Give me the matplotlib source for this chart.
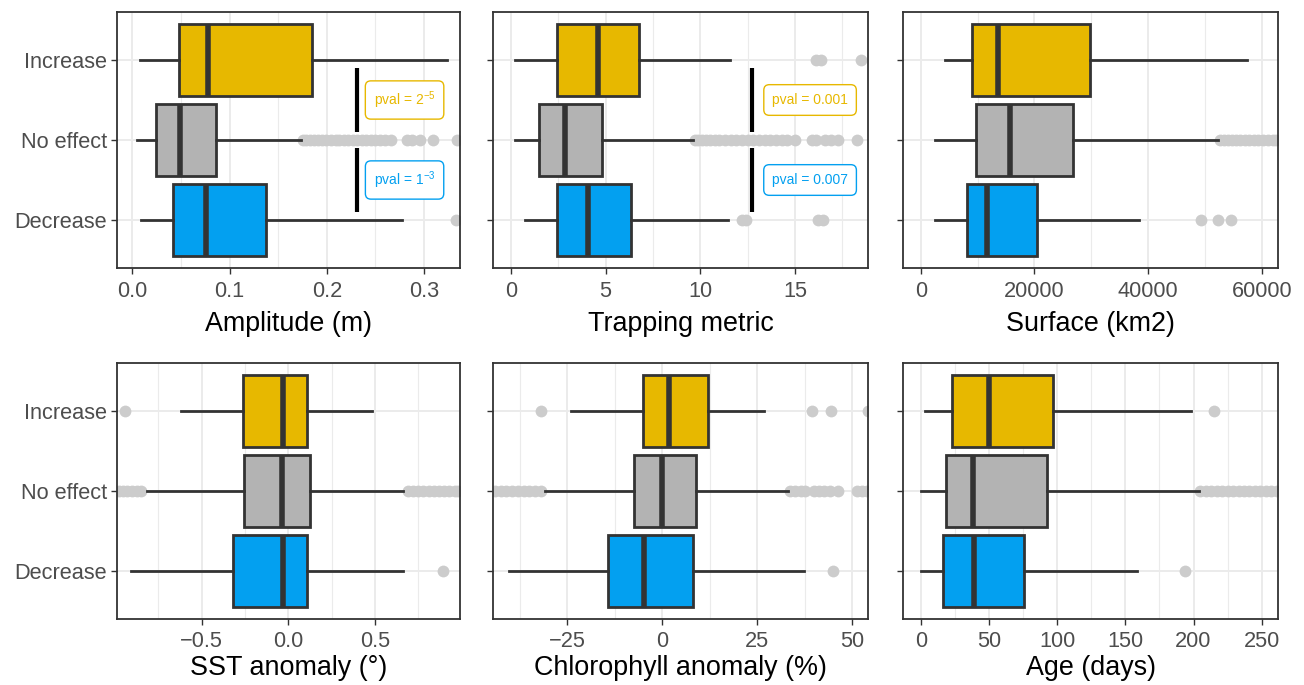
import matplotlib
matplotlib.use("Agg")
import matplotlib.pyplot as plt
import numpy as np

plt.rcParams['font.family'] = ['Liberation Sans', 'DejaVu Sans']
plt.rcParams['mathtext.fontset'] = 'custom'
plt.rcParams['mathtext.rm'] = 'Liberation Sans'
plt.rcParams['mathtext.it'] = 'Liberation Sans:italic'
plt.rcParams['mathtext.bf'] = 'Liberation Sans:bold'

categories = ["Increase", "No effect", "Decrease"]
colors = ["#E7B800", "#B3B3B3", "#03A0F0"]

# each stat: [whislo, q1, median, q3, whishi]
amp_stats = [[0.008, 0.048, 0.078, 0.185, 0.324],
             [0.0045, 0.0244, 0.049, 0.086, 0.174],
             [0.009, 0.0415, 0.0754, 0.138, 0.2775]]
amp_out = [[],
           [0.176, 0.179, 0.183, 0.187, 0.191, 0.195, 0.199, 0.204, 0.209, 0.213, 0.218,
            0.222, 0.227, 0.231, 0.236, 0.240, 0.245, 0.250, 0.255, 0.260, 0.266,
            0.282, 0.288, 0.296, 0.309, 0.334],
           [0.333]]

trap_stats = [[0.21, 2.41, 4.61, 6.78, 11.57],
              [0.21, 1.5, 2.85, 4.82, 9.63],
              [0.74, 2.41, 4.05, 6.34, 11.45]]
trap_out = [[16.1, 16.4, 18.5],
            [9.7, 9.9, 10.1, 10.3, 10.5, 10.8, 11.0, 11.3, 11.6, 11.9, 12.2, 12.5,
             12.8, 13.1, 13.4, 13.7, 14.0, 14.3, 14.6, 15.0, 15.9, 16.1, 16.6, 16.9,
             17.3, 18.3],
            [12.2, 12.4, 16.2, 16.5]]

surf_stats = [[4275, 9080, 13650, 29790, 57360],
              [2516, 9730, 15710, 26850, 52360],
              [2516, 8090, 11720, 20520, 38460]]
surf_out = [[],
            [52600, 53300, 54000, 54700, 55400, 56200, 57000, 57800, 58600, 59400,
             60300, 61100, 61900, 62600],
            [49320, 52360, 54600]]

sst_stats = [[-0.619, -0.263, -0.029, 0.106, 0.481],
             [-0.817, -0.254, -0.035, 0.125, 0.664],
             [-0.909, -0.321, -0.029, 0.106, 0.664]]
sst_out = [[-0.942],
           [-0.975, -0.955, -0.93, -0.90, -0.875, -0.85,
            0.69, 0.72, 0.75, 0.78, 0.81, 0.84, 0.87, 0.90, 0.93, 0.96, 0.98],
           [0.894]]

chl_stats = [[-24.1, -5.0, 1.76, 11.9, 26.8],
             [-30.9, -7.4, 0.0, 8.87, 33.2],
             [-40.4, -14.2, -4.74, 8.16, 37.4]]
chl_out = [[-32.0, 39.5, 44.3, 54.0],
           [-44.0, -42.5, -41.0, -39.5, -38.0, -36.5, -35.0, -33.5, -32.0,
            33.5, 35.0, 36.5, 37.6, 39.8, 41.2, 42.6, 44.0, 46.3, 51.3, 52.6, 53.8],
           [45.0]]

age_stats = [[3.2, 23.2, 49.9, 97.3, 198.0],
             [0.5, 18.5, 38.6, 92.8, 204.0],
             [0.5, 16.6, 39.1, 76.0, 158.4]]
age_out = [[215.0],
           [205, 209, 213, 217, 221, 225, 229, 233, 237, 241, 245, 249, 253, 257, 261],
           [193.8]]

panels = [
    ("Amplitude (m)", amp_stats, amp_out, (-0.0157, 0.337), [0.0, 0.1, 0.2, 0.3], ["0.0", "0.1", "0.2", "0.3"], [0.05, 0.15, 0.25]),
    ("Trapping metric", trap_stats, trap_out, (-0.95, 18.86), [0, 5, 10, 15], ["0", "5", "10", "15"], [2.5, 7.5, 12.5, 17.5]),
    ("Surface (km2)", surf_stats, surf_out, (-3114, 62866), [0, 20000, 40000, 60000], ["0", "20000", "40000", "60000"], [10000, 30000, 50000]),
    ("SST anomaly (°)", sst_stats, sst_out, (-0.988, 0.991), [-0.5, 0.0, 0.5], ["\u22120.5", "0.0", "0.5"], [-0.75, -0.25, 0.25, 0.75]),
    ("Chlorophyll anomaly (%)", chl_stats, chl_out, (-44.55, 54.13), [-25, 0, 25, 50], ["\u221225", "0", "25", "50"], [-37.5, -12.5, 12.5, 37.5]),
    ("Age (days)", age_stats, age_out, (-13.0, 261.9), [0, 50, 100, 150, 200, 250], ["0", "50", "100", "150", "200", "250"], [25, 75, 125, 175, 225]),
]

# significance annotations: panel index -> (x of bar, x of label, labels)
sig_x = {0: 0.2306, 1: 12.71}
sig_label_x = {0: 0.280, 1: 15.8}
sig_labels = {0: ["pval = $2^{-5}$", "pval = $1^{-3}$"],
              1: ["pval = 0.001", "pval = 0.007"]}

W, H = 1304, 685
fig = plt.figure(figsize=(W / 100, H / 100), dpi=100)

col_px = [(117, 343), (493, 375), (903, 375)]
row_px = [(12, 256), (363, 256)]
row_labelpad = [6, 2]

grid_c = "#EBEBEB"
dark = "#333333"

for i, (title, stats, outs, xlim, ticks, tlabels, minors) in enumerate(panels):
    r, c = divmod(i, 3)
    lx, wx = col_px[c]
    ty, hy = row_px[r]
    ax = fig.add_axes([lx / W, (H - ty - hy) / H, wx / W, hy / H])
    ax.set_axisbelow(True)
    bxp_stats = []
    for k in range(3):
        s = stats[k]
        bxp_stats.append(dict(whislo=s[0], q1=s[1], med=s[2], q3=s[3], whishi=s[4],
                              fliers=np.array(outs[k]), label=categories[k]))
    bp = ax.bxp(bxp_stats, positions=[1, 2, 3], widths=0.9, vert=False,
                patch_artist=True, showcaps=False,
                boxprops=dict(edgecolor=dark, linewidth=2.0),
                medianprops=dict(color=dark, linewidth=4.0, solid_capstyle='butt'),
                whiskerprops=dict(color=dark, linewidth=2.0),
                flierprops=dict(marker='o', markerfacecolor='#CCCCCC', markeredgecolor='none',
                                markersize=8.5))
    for patch, col in zip(bp['boxes'], colors):
        patch.set_facecolor(col)
    for fl in bp['fliers']:
        fl.set_zorder(1.5)

    ax.set_ylim(3.6, 0.4)
    ax.set_xlim(*xlim)
    ax.set_xticks(ticks)
    ax.set_xticklabels(tlabels)
    ax.set_xticks(minors, minor=True)
    ax.set_yticks([1, 2, 3])
    if c == 0:
        ax.set_yticklabels(categories)
    else:
        ax.set_yticklabels([])
    ax.grid(which='major', color=grid_c, linewidth=1.4)
    ax.grid(which='minor', axis='x', color=grid_c, linewidth=0.8)
    ax.tick_params(which='major', length=4, width=1.0, color=dark, labelcolor="#4D4D4D",
                   labelsize=15.7)
    ax.tick_params(axis='x', which='major', pad=5.5 if r == 0 else 4.5)
    ax.tick_params(axis='y', which='major', pad=3)
    ax.tick_params(which='minor', length=0)
    for sp in ax.spines.values():
        sp.set_color(dark)
        sp.set_linewidth(1.3)
    ax.set_xlabel(title, fontsize=19.4, color="black", labelpad=row_labelpad[r])

    if i in sig_x:
        ax.plot([sig_x[i], sig_x[i]], [1.1, 1.9], color="black", linewidth=3, solid_capstyle='butt')
        ax.plot([sig_x[i], sig_x[i]], [2.1, 2.9], color="black", linewidth=3, solid_capstyle='butt')
        for j, (yy, col) in enumerate(zip([1.5, 2.5], [colors[0], colors[2]])):
            ax.text(sig_label_x[i], yy, sig_labels[i][j], color=col, fontsize=10,
                    ha='center', va='center',
                    bbox=dict(boxstyle='round,pad=0.6,rounding_size=0.4',
                              facecolor='white', edgecolor=col, linewidth=1.0))

fig.savefig("out.png", dpi=100)
